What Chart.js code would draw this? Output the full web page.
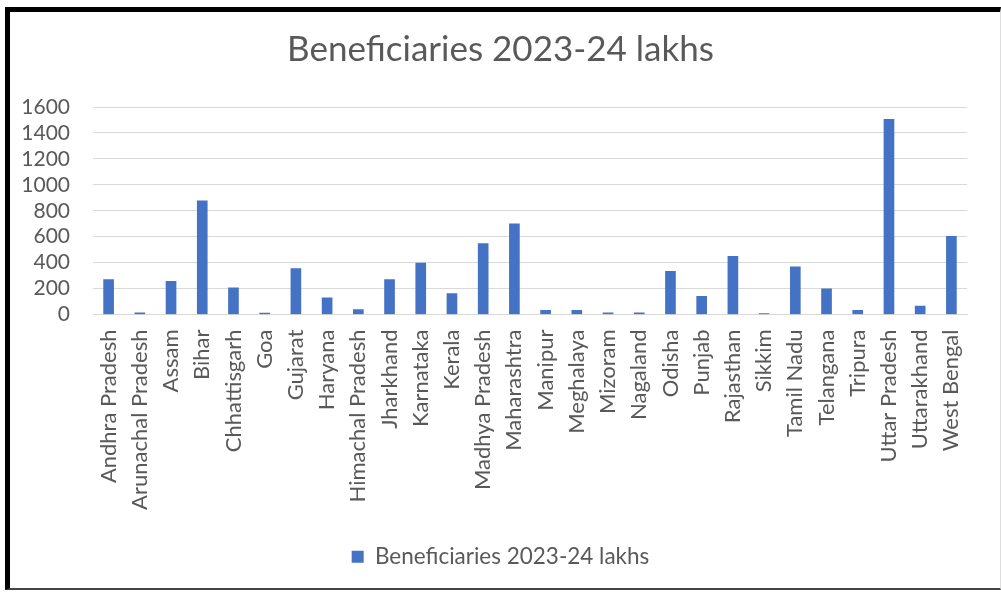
<!DOCTYPE html>
<html>
<head>
<meta charset="utf-8">
<script src="https://cdn.jsdelivr.net/npm/chart.js@4/dist/chart.umd.min.js"></script>
<style>
    html, body { margin: 0; padding: 0; background: #fff; }
    .frame {
        position: absolute; left: 5px; top: 7px; width: 990px; height: 576px;
        border-top: 5px solid #000; border-left: 5px solid #000;
        border-bottom: 2px solid #444; border-right: 1px solid #ddd;
    }
    .wrap { position: absolute; left: 0; top: 0; width: 1001px; height: 594px; }
</style>
</head>
<body>
<div class="frame"></div>
<div class="wrap"><canvas id="benChart" width="1001" height="594"></canvas></div>
<script>
const states = [
    'Andhra Pradesh', 'Arunachal Pradesh', 'Assam', 'Bihar', 'Chhattisgarh', 'Goa', 'Gujarat',
    'Haryana', 'Himachal Pradesh', 'Jharkhand', 'Karnataka', 'Kerala', 'Madhya Pradesh',
    'Maharashtra', 'Manipur', 'Meghalaya', 'Mizoram', 'Nagaland', 'Odisha', 'Punjab',
    'Rajasthan', 'Sikkim', 'Tamil Nadu', 'Telangana', 'Tripura', 'Uttar Pradesh',
    'Uttarakhand', 'West Bengal'
];
const beneficiaries = [
    270, 12, 256, 877, 205, 10, 354,
    128, 38, 269, 397, 161, 546,
    700, 33, 33, 12, 12, 333, 141,
    448, 8, 367, 197, 33, 1505,
    64, 602
];
const yTicks = [0, 200, 400, 600, 800, 1000, 1200, 1400, 1600];
const seriesName = 'Beneficiaries 2023-24 lakhs';

const textGray = '#595959';
const fontFamily = "Lato, 'Open Sans', sans-serif";

new Chart(document.getElementById('benChart').getContext('2d'), {
    type: 'bar',
    data: {
        labels: states,
        datasets: [{
            label: seriesName,
            data: beneficiaries,
            backgroundColor: '#4472C4',
            barThickness: 10,
        }],
    },
    options: {
        responsive: false,
        animation: false,
        layout: { padding: { left: 10, right: 10, top: 8, bottom: 16 } },
        plugins: {
            title: {
                display: true,
                text: seriesName,
                color: textGray,
                font: { family: fontFamily, size: 35, weight: 'normal' },
                padding: { top: 21, bottom: 36 },
            },
            legend: {
                position: 'bottom',
                labels: {
                    color: textGray,
                    font: { family: fontFamily, size: 22.5 },
                    boxWidth: 12,
                    boxHeight: 12,
                    padding: 10,
                },
            },
            tooltip: { enabled: false },
        },
        scales: {
            y: {
                min: yTicks[0],
                max: yTicks[yTicks.length - 1],
                afterBuildTicks(scale) {
                    scale.ticks = yTicks.map(v => ({ value: v }));
                },
                afterFit(scale) { scale.width = 83; },
                grid: { color: '#d9d9d9', drawTicks: false },
                border: { display: false },
                ticks: {
                    color: textGray,
                    font: { family: fontFamily, size: 21 },
                    padding: 23,
                    autoSkip: false,
                    callback: value => String(value),
                },
            },
            // empty right-hand spacer so the plot ends where the original does
            // while the title and legend stay centred on the page
            spacer: {
                type: 'linear',
                position: 'right',
                afterFit(scale) { scale.width = 24; },
                grid: { display: false, drawTicks: false },
                border: { display: false },
                ticks: { display: false },
            },
            x: {
                afterFit(scale) { scale.height = 221; },
                grid: { display: false, drawTicks: false },
                border: { display: true, color: '#d9d9d9' },
                ticks: {
                    color: textGray,
                    font: { family: fontFamily, size: 22 },
                    minRotation: 90,
                    maxRotation: 90,
                    autoSkip: false,
                    padding: 15,
                },
            },
        },
    },
});
</script>
</body>
</html>
